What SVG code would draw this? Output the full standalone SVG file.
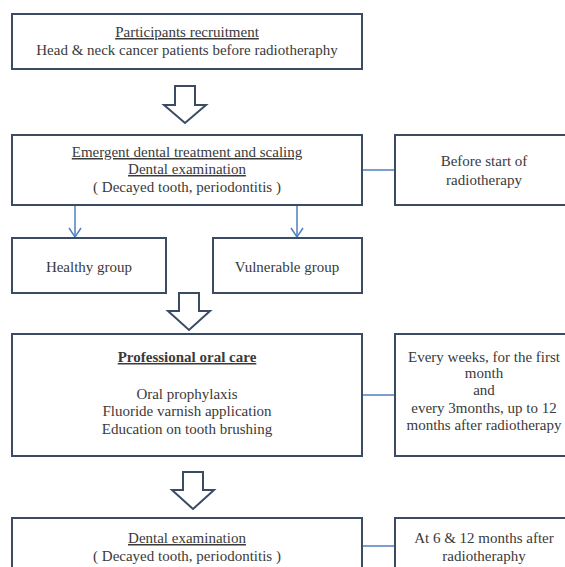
<svg xmlns="http://www.w3.org/2000/svg" width="565" height="567" viewBox="0 0 565 567">
<style>
.box{fill:#ffffff;stroke:#3b4b63;stroke-width:2}
.t{font-family:"Liberation Serif","Times New Roman",serif;font-size:15px;fill:#3a3a3a;text-anchor:middle}
.u{text-decoration:underline}
.b{font-weight:bold}
.con{stroke:#4f7fbf;stroke-width:1.5;fill:none}
.big{fill:#ffffff;stroke:#3b4b63;stroke-width:2;stroke-linejoin:miter}
</style>
<defs>
<marker id="v" markerWidth="12" markerHeight="14" refX="10" refY="7" orient="auto" markerUnits="userSpaceOnUse" viewBox="0 0 12 14">
<path d="M1,1 L10,7 L1,13" fill="none" stroke="#4f7fbf" stroke-width="1.5"/>
</marker>
</defs>
<rect width="565" height="567" fill="#ffffff"/>
<g id="connectors">
<line class="con" x1="362" y1="170" x2="395" y2="170"/>
<line class="con" x1="362" y1="395" x2="395" y2="395"/>
<line class="con" x1="362" y1="546" x2="395" y2="546"/>
<line class="con" x1="75" y1="205" x2="75" y2="237" marker-end="url(#v)"/>
<line class="con" x1="297" y1="205" x2="297" y2="237" marker-end="url(#v)"/>
<path class="big" d="M175,86 H195 V105 H206 L185,123 L164,105 H175 Z"/>
<path class="big" d="M179,293 H199 V311 H210 L189,330 L168,311 H179 Z"/>
<path class="big" d="M183,472 H203 V490 H214 L193,509 L172,490 H183 Z"/>
</g>
<g id="n1">
<rect class="box" x="12" y="14" width="350" height="55"/>
<text class="t u" x="187" y="37">Participants recruitment</text>
<text class="t" x="187" y="55">Head &amp; neck cancer patients before radiotheraphy</text>
</g>
<g id="n2">
<rect class="box" x="12" y="135" width="350" height="70"/>
<text class="t u" x="187" y="157">Emergent dental treatment and scaling</text>
<text class="t u" x="187" y="174">Dental examination</text>
<text class="t" x="187" y="192">( Decayed  tooth, periodontitis )</text>
</g>
<g id="n2r">
<rect class="box" x="395" y="135" width="180" height="70"/>
<text class="t" x="484" y="166">Before start of</text>
<text class="t" x="484" y="185">radiotherapy</text>
</g>
<g id="healthy">
<rect class="box" x="12" y="238" width="154" height="55"/>
<text class="t" x="89" y="272">Healthy group</text>
</g>
<g id="vulnerable">
<rect class="box" x="213" y="238" width="149" height="55"/>
<text class="t" x="287" y="272">Vulnerable group</text>
</g>
<g id="n3">
<rect class="box" x="12" y="334" width="350" height="122"/>
<text class="t u b" x="187" y="362">Professional oral care</text>
<text class="t" x="187" y="399">Oral prophylaxis</text>
<text class="t" x="187" y="416">Fluoride varnish application</text>
<text class="t" x="187" y="434">Education on tooth brushing</text>
</g>
<g id="n3r">
<rect class="box" x="395" y="334" width="180" height="122"/>
<text class="t" x="484" y="362">Every weeks, for the first</text>
<text class="t" x="484" y="378">month</text>
<text class="t" x="484" y="395">and</text>
<text class="t" x="484" y="413">every  3months, up to 12</text>
<text class="t" x="484" y="430">months after radiotherapy</text>
</g>
<g id="n4">
<rect class="box" x="12" y="518" width="350" height="70"/>
<text class="t u" x="187" y="543">Dental examination</text>
<text class="t" x="187" y="561">( Decayed  tooth, periodontitis )</text>
</g>
<g id="n4r">
<rect class="box" x="395" y="518" width="180" height="70"/>
<text class="t" x="484" y="543">At 6 &amp; 12 months after</text>
<text class="t" x="484" y="561">radiotheraphy</text>
</g>
</svg>
